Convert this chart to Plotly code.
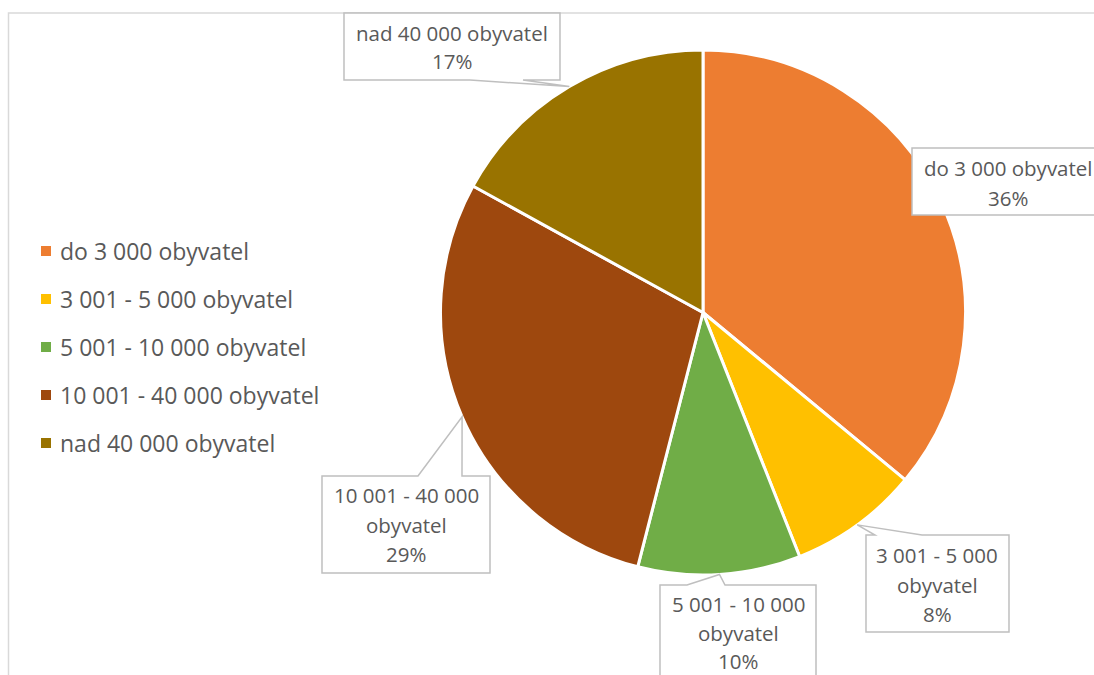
import math
import plotly.graph_objects as go

# Obce podle velikosti (podíl v %)
categories = [
    "do 3 000 obyvatel",
    "3 001 - 5 000 obyvatel",
    "5 001 - 10 000 obyvatel",
    "10 001 - 40 000 obyvatel",
    "nad 40 000 obyvatel",
]
shares = [36, 8, 10, 29, 17]
colors = ["#ED7D31", "#FFC000", "#70AD47", "#9E480E", "#997300"]

W, H = 1094, 675
TEXT = "#595959"
FONT = "Open Sans"

# pie placement in pixels (center and radius)
CX, CY, R = 703, 312.5, 262.5


def px(x):
    return x / W


def py(y):
    return 1 - y / H


fig = go.Figure()
fig.add_trace(go.Pie(
    labels=categories,
    values=shares,
    sort=False,
    direction="clockwise",
    rotation=0,
    marker=dict(colors=colors, line=dict(color="white", width=3)),
    textinfo="none",
    showlegend=False,
    domain=dict(x=[px(CX - R), px(CX + R)], y=[py(CY + R), py(CY - R)]),
))

shapes = []
annotations = []

# outer chart frame
shapes.append(dict(type="rect", xref="paper", yref="paper",
                   x0=px(8.5), x1=px(1110), y0=py(13), y1=py(700),
                   line=dict(color="#D9D9D9", width=1.5), fillcolor="rgba(0,0,0,0)"))

# callout boxes: (left, top, right, bottom), pointer edge, pointer base x0/x1, text line y, text center x
callouts = [
    dict(box=(912, 148, 1110, 215), edge=None, base=None, wrap=False, ys=[168, 198], cx=1008),
    dict(box=(866, 535, 1009, 632), edge="top", base=(875, 922), wrap=True, ys=[555, 585, 614], cx=937),
    dict(box=(660, 585, 816, 700), edge="top", base=(687, 725), wrap=True, ys=[604, 633, 661], cx=738),
    dict(box=(322, 476, 490, 573), edge="top", base=(418, 462), wrap=True, ys=[495, 525, 554], cx=406),
    dict(box=(344, 13, 560, 80), edge="bottom", base=(470, 523), wrap=False, ys=[33, 61], cx=452),
]

total = sum(shares)
cum = 0
for label, val, co in zip(categories, shares, callouts):
    mid = (cum + val / 2) / total * 2 * math.pi
    cum += val
    # pointer tip on the slice rim, at the slice's middle angle
    tx = CX + R * math.sin(mid)
    ty = CY - R * math.cos(mid)
    l, t, r, b = co["box"]
    if co["edge"] == "top":
        b0, b1 = co["base"]
        pts = [(l, t), (b0, t), (tx, ty), (b1, t), (r, t), (r, b), (l, b)]
    elif co["edge"] == "bottom":
        b0, b1 = co["base"]
        pts = [(l, t), (r, t), (r, b), (b1, b), (tx, ty), (b0, b), (l, b)]
    else:
        pts = [(l, t), (r, t), (r, b), (l, b)]
    path = "M " + " L ".join(f"{px(x):.5f},{py(y):.5f}" for x, y in pts) + " Z"
    shapes.append(dict(type="path", xref="paper", yref="paper", path=path,
                       fillcolor="white", line=dict(color="#BFBFBF", width=1.5),
                       layer="above"))

    if co["wrap"]:
        head = label.replace(" obyvatel", "")
        lines = [head, "obyvatel", f"{val}%"]
    else:
        lines = [label, f"{val}%"]
    for txt, y in zip(lines, co["ys"]):
        annotations.append(dict(xref="paper", yref="paper", x=px(co["cx"]), y=py(y),
                                text=txt, showarrow=False, xanchor="center", yanchor="middle",
                                font=dict(family=FONT, size=20.5, color=TEXT)))

# legend on the left
legend_y0, legend_dy = 251, 48
for i, (label, c) in enumerate(zip(categories, colors)):
    y = legend_y0 + i * legend_dy
    shapes.append(dict(type="rect", xref="paper", yref="paper",
                       x0=px(41), x1=px(51), y0=py(y + 5), y1=py(y - 5),
                       fillcolor=c, line=dict(width=0)))
    annotations.append(dict(xref="paper", yref="paper", x=px(58), y=py(y),
                            text=label, showarrow=False, xanchor="left", yanchor="middle",
                            font=dict(family=FONT, size=23, color=TEXT)))

fig.update_layout(
    width=W, height=H,
    margin=dict(l=0, r=0, t=0, b=0),
    paper_bgcolor="white",
    plot_bgcolor="white",
    shapes=shapes,
    annotations=annotations,
)

fig.write_html("out.html")
